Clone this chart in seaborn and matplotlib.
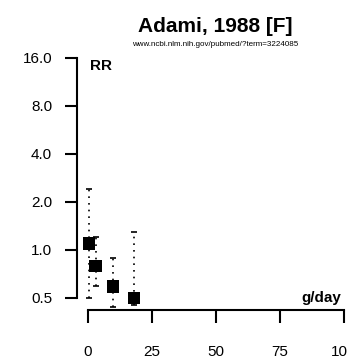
"""Dose-response plot for Adami, 1988 (RR vs g/day)."""

import matplotlib
matplotlib.use("Agg")
import matplotlib.pyplot as plt
import numpy as np
import seaborn as sns

dose = [0.5, 3.0, 9.8, 18.0]
rr = [1.1, 0.79, 0.59, 0.5]
rr_low = [0.5, 0.59, 0.44, 0.45]
rr_high = [2.4, 1.21, 0.89, 1.3]

y_ticks = [0.5, 1.0, 2.0, 4.0, 8.0, 16.0]
y_labels = ["0.5", "1.0", "2.0", "4.0", "8.0", "16.0"]
x_ticks = [0, 25, 50, 75, 100]

title = "Adami, 1988 [F]"
subtitle = "www.ncbi.nlm.nih.gov/pubmed/?term=3224085"


def _main() -> None:
    sns.set_style("ticks")
    plt.rcParams["font.family"] = ["Liberation Sans", "DejaVu Sans"]
    # Plain black text and ticks, like the original R output.
    for key in ["text.color", "axes.labelcolor", "xtick.color",
                "ytick.color", "axes.edgecolor"]:
        plt.rcParams[key] = "black"
    fig = plt.figure(figsize=(3.47, 3.6), dpi=100)
    ax = fig.add_axes([77 / 347, 50 / 360, 267 / 347, 255 / 360])

    rr_arr = np.array(rr)
    yerr = [rr_arr - np.array(rr_low), np.array(rr_high) - rr_arr]
    eb = ax.errorbar(dose, rr, yerr=yerr, fmt="none", ecolor="black",
                     elinewidth=1.2, capsize=2, capthick=1.2)
    for col in eb.lines[2]:
        col.set_linestyle((0, (1, 3)))

    sns.scatterplot(x=dose, y=rr, marker="s", s=80, color="black",
                    edgecolor="none", ax=ax, legend=False, zorder=3)

    ax.set_yscale("log", base=2)
    ax.set_ylim(0.42, 16.7)
    ax.set_xlim(-4.3, 100)
    ax.set_yticks(y_ticks)
    ax.set_yticklabels(y_labels)
    ax.minorticks_off()
    ax.set_xticks(x_ticks)
    ax.set_xticklabels([str(t) for t in x_ticks])

    for side in ["top", "right"]:
        ax.spines[side].set_visible(False)
    ax.spines["left"].set_bounds(0.5, 16)
    ax.spines["bottom"].set_bounds(0, 100)
    for side in ["left", "bottom"]:
        ax.spines[side].set_linewidth(1.5)
    ax.tick_params(axis="both", direction="out", length=9, width=1.5,
                   labelsize=11, colors="black")
    ax.tick_params(axis="x", pad=16)
    ax.tick_params(axis="y", pad=9)

    ax.text(90 / 347, 1 - 66 / 360, "RR", transform=fig.transFigure,
            fontsize=11, fontweight="bold", ha="left", va="center")
    ax.text(341 / 347, 1 - 298 / 360, "g/day", transform=fig.transFigure,
            fontsize=11, fontweight="bold", ha="right", va="center")

    fig.text(215 / 347, 1 - 27 / 360, title, fontsize=15,
             fontweight="bold", ha="center", va="center")
    fig.text(215 / 347, 1 - 45 / 360, subtitle, fontsize=5.8,
             ha="center", va="center")

    fig.savefig("out.png", dpi=100, facecolor="white")


if __name__ == "__main__":
    _main()
